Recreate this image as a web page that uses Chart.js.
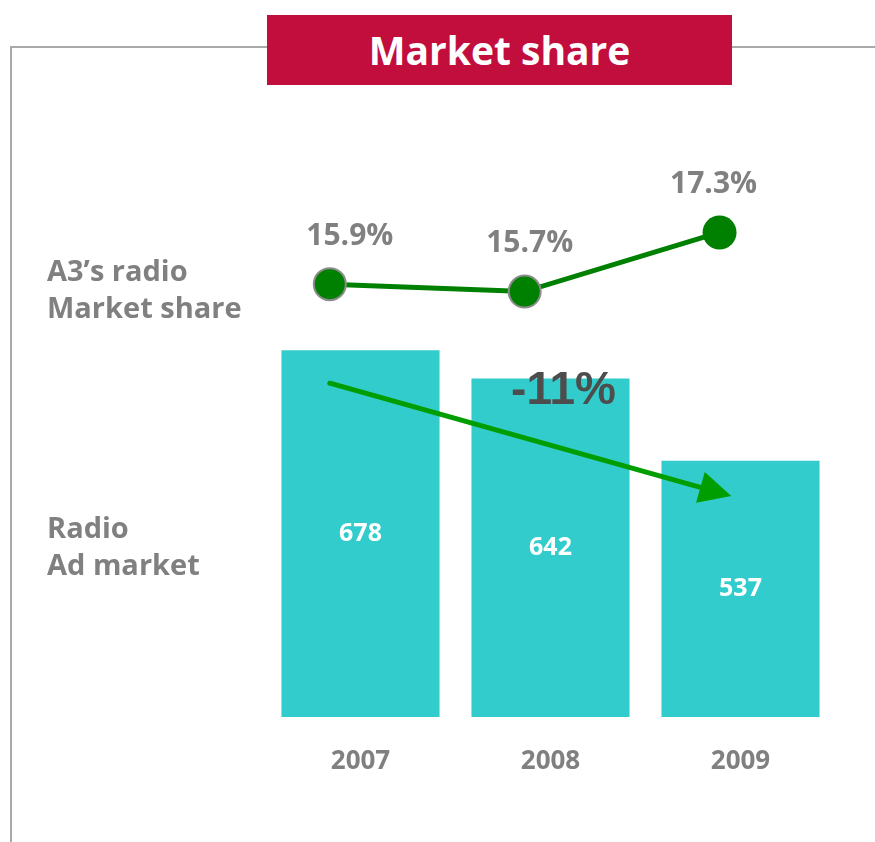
<!DOCTYPE html>
<html lang="en">
  <head>
    <meta charset="UTF-8" />
    <title>Market share</title>
    <style>
      html,
      body {
        margin: 0;
        padding: 0;
        background: #fff;
      }
      .page {
        position: relative;
        width: 875px;
        height: 842px;
        overflow: hidden;
        font-family: "Open Sans", sans-serif;
      }
      .frame {
        position: absolute;
        left: 10px;
        top: 46px;
        right: 0;
        bottom: 0;
        border-top: 2px solid #a9a9a9;
        border-left: 2px solid #a9a9a9;
      }
      .title {
        position: absolute;
        left: 267px;
        top: 15px;
        width: 465px;
        height: 70px;
        background: #c20e3d;
        color: #fff;
        font-weight: 700;
        font-size: 39px;
        line-height: 70px;
        text-align: center;
      }
      .side-label {
        position: absolute;
        left: 47px;
        color: #808080;
        font-weight: 700;
        font-size: 29px;
        line-height: 37px;
      }
      #chart {
        position: absolute;
        left: 0;
        top: 0;
      }
    </style>
  </head>
  <body>
    <div class="page">
      <div class="frame"></div>
      <canvas id="chart" width="875" height="842"></canvas>
      <div class="title">Market share</div>
      <div class="side-label" style="top: 251px">A3’s radio<br />Market share</div>
      <div class="side-label" style="top: 508px">Radio<br />Ad market</div>
    </div>

    <script src="https://cdn.jsdelivr.net/npm/chart.js"></script>
    <script>
      // data
      const years = ["2007", "2008", "2009"];
      const adMarket = [678, 642, 537];
      const radioShare = [15.9, 15.7, 17.3];

      // small horizontal nudges for the share labels
      const shareLabelShift = [20, 5, -6];

      const GREY = "#808080";
      const TEAL = "#33cccc";
      const GREEN = "#008000";

      // yearly compound change of the ad market over the period
      const cagr =
        Math.pow(adMarket[adMarket.length - 1] / adMarket[0], 1 / (adMarket.length - 1)) - 1;

      const overlayPlugin = {
        id: "overlay",
        afterDatasetsDraw(chart) {
          const { ctx, scales } = chart;
          const x = scales.x;
          const y = scales.y;
          const bars = chart.getDatasetMeta(1).data;
          const pts = chart.getDatasetMeta(0).data;

          ctx.save();
          ctx.textAlign = "center";
          ctx.textBaseline = "middle";

          // values inside the bars
          ctx.fillStyle = "#fff";
          ctx.font = "700 25px 'Open Sans'";
          bars.forEach((bar, i) => {
            ctx.fillText(String(adMarket[i]), bar.x, (bar.y + y.bottom) / 2);
          });

          // year labels under the bars
          ctx.fillStyle = GREY;
          ctx.font = "700 26px 'Open Sans'";
          years.forEach((yr, i) => {
            ctx.fillText(yr, x.getPixelForValue(i), y.bottom + 45);
          });

          // share labels above the points
          ctx.font = "700 30px 'Open Sans'";
          pts.forEach((pt, i) => {
            ctx.fillText(
              radioShare[i].toFixed(1) + "%",
              pt.x + shareLabelShift[i],
              pt.y - 48
            );
          });

          // trend arrow across the bars
          const x2 = scales.x2;
          const sx = x2.getPixelForValue(0);
          const sy = y.getPixelForValue(636);
          const ex = x2.getPixelForValue(2.06);
          const ey = y.getPixelForValue(492);
          const ang = Math.atan2(ey - sy, ex - sx);
          const headLen = 32;
          const headW = 16;
          const bx = ex - Math.cos(ang) * headLen;
          const by = ey - Math.sin(ang) * headLen;

          ctx.strokeStyle = "#009e00";
          ctx.fillStyle = "#009e00";
          ctx.lineWidth = 5;
          ctx.lineCap = "round";
          ctx.beginPath();
          ctx.moveTo(sx, sy);
          ctx.lineTo(bx, by);
          ctx.stroke();

          ctx.beginPath();
          ctx.moveTo(ex, ey);
          ctx.lineTo(bx + Math.sin(ang) * headW, by - Math.cos(ang) * headW);
          ctx.lineTo(bx - Math.sin(ang) * headW, by + Math.cos(ang) * headW);
          ctx.closePath();
          ctx.fill();

          // change label
          ctx.fillStyle = "#4d4d4d";
          ctx.font = "700 46px 'Liberation Sans'";
          ctx.fillText(
            Math.round(cagr * 100) + "%",
            (x.getPixelForValue(1) + x.getPixelForValue(2)) / 2 - 82,
            y.getPixelForValue(626)
          );

          ctx.restore();
        },
      };

      new Chart(document.getElementById("chart"), {
        type: "bar",
        data: {
          labels: years,
          datasets: [
            {
              type: "line",
              data: radioShare.map((v, i) => ({ x: i, y: v })),
              xAxisID: "x2",
              yAxisID: "y2",
              borderColor: GREEN,
              borderWidth: 5,
              pointRadius: [16, 16, 17],
              pointBackgroundColor: GREEN,
              pointBorderColor: ["#8c8c8c", "#8c8c8c", GREEN],
              pointBorderWidth: [2, 2, 0],
              tension: 0,
            },
            {
              data: adMarket,
              backgroundColor: TEAL,
              grouped: false,
              barPercentage: 0.832,
              categoryPercentage: 1,
            },
          ],
        },
        plugins: [overlayPlugin],
        options: {
          responsive: false,
          animation: false,
          layout: {
            padding: { left: 265.5, right: 39.5, top: 98, bottom: 125 },
          },
          plugins: {
            legend: { display: false },
            tooltip: { enabled: false },
          },
          scales: {
            x: { display: false, offset: true },
            y: { display: false, min: 210, max: 1000 },
            x2: { type: "linear", display: false, offset: false, min: -0.33, max: 2.595 },
            y2: { display: false, min: 4.18, max: 20.94 },
          },
        },
      });
    </script>
  </body>
</html>
